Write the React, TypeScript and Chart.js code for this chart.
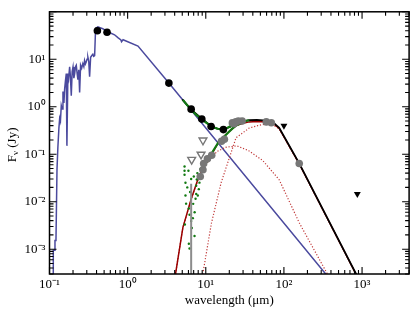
import React, { useEffect, useRef } from "react";
import { Chart, registerables } from "chart.js";

Chart.register(...registerables);

// ---------- data (wavelength in micron, flux density in Jy) ----------
// stellar photosphere model (blue)
const starWl = [0.1118, 0.1118, 0.1175, 0.1175, 0.121, 0.1247, 0.128, 0.132, 0.135, 0.138, 0.1415, 0.145, 0.1487, 0.153, 0.156, 0.16, 0.164, 0.167, 0.172, 0.176, 0.181, 0.185, 0.19, 0.195, 0.2, 0.205, 0.21, 0.215, 0.22, 0.226, 0.231, 0.237, 0.243, 0.25, 0.258, 0.267, 0.275, 0.281, 0.288, 0.295, 0.302, 0.31, 0.318, 0.326, 0.336, 0.348, 0.359, 0.368, 0.378, 0.389, 0.416, 0.48, 0.557, 0.68, 0.75, 0.82, 0.835, 0.874, 1.357, 3.37, 400];
const starFlux = [1e-4, 9.5e-4, 9.5e-4, 1.52e-3, 1.52e-3, 0.047, 0.14, 0.36, 0.57, 0.5, 1.06, 0.9, 2.1, 1.2, 2.3, 3.5, 5.0, 0.15, 5.0, 4.0, 6.9, 4.5, 1.7, 5.5, 6.9, 4.0, 5.0, 7.0, 7.5, 5.0, 3.7, 6.0, 2.0, 7.5, 6.5, 8.1, 7.0, 9.4, 8.0, 8.8, 10, 11, 9, 4.3, 11, 12, 12.8, 11.5, 11.9, 44.6, 48, 44, 38, 32.8, 28.5, 25.5, 23.5, 25.8, 19.0, 3.15, 2.2e-4];

// total model star + disk (black)
const totalWl = [5.0, 6.5, 8.9, 11.7, 14, 16.8, 20, 25, 30, 36, 45, 59, 75, 87, 157, 835, 1000];
const totalFlux = [1.43, 0.87, 0.56, 0.39, 0.345, 0.335, 0.37, 0.44, 0.49, 0.52, 0.53, 0.51, 0.45, 0.36, 0.064, 3.05e-4, 1.7e-4];

// disk model (dark red solid)
const diskWl = [4.1, 5.09, 6.52, 7.91, 9.62, 11.1, 14.9, 20, 24.4, 30, 36, 45, 59, 75, 87, 157, 835, 1000];
const diskFlux = [3.0e-4, 2.84e-3, 0.0115, 0.0294, 0.0593, 0.081, 0.19, 0.304, 0.40, 0.45, 0.48, 0.49, 0.48, 0.43, 0.35, 0.063, 3.0e-4, 1.7e-4];

// warm dust component (dotted)
const warmWl = [4.1, 5.09, 6.52, 7.91, 9.62, 11.1, 14, 18, 25, 35, 53.5, 87, 157, 360, 450];
const warmFlux = [3.0e-4, 2.84e-3, 0.0113, 0.028, 0.055, 0.076, 0.115, 0.14, 0.15, 0.12, 0.074, 0.029, 0.0036, 3.0e-4, 1.5e-4];

// cold dust component (dotted)
const coldWl = [9.16, 11.8, 15.7, 24.4, 36, 48.4, 60, 75, 87, 157, 835, 1000];
const coldFlux = [3.0e-4, 3.5e-3, 0.025, 0.223, 0.356, 0.41, 0.43, 0.40, 0.34, 0.062, 3.0e-4, 1.7e-4];

// IRS spectrum, total (green, upper)
const irsWl = [5.1, 5.6, 6.5, 7.5, 8.9, 10, 11.7, 13, 14.5, 16.8, 19, 22, 25, 28, 32, 36];
const irsFlux = [1.4, 1.15, 0.87, 0.68, 0.55, 0.47, 0.39, 0.36, 0.34, 0.335, 0.36, 0.41, 0.44, 0.47, 0.5, 0.52];

// IRS spectrum, photosphere subtracted (green, lower)
const excessWl = [8.3, 9.0, 9.6, 10.5, 11.1, 12.5, 14.9, 17, 20, 22, 24.4, 28, 32];
const excessFlux = [0.047, 0.052, 0.06, 0.072, 0.085, 0.12, 0.19, 0.23, 0.3, 0.35, 0.4, 0.45, 0.49];

// noisy short-wavelength excess spectrum (green dots)
const noiseWl = [5.35, 5.35, 5.4, 5.5, 5.5, 5.6, 5.8, 6.0, 6.07, 6.07, 6.2, 6.2, 6.3, 6.5, 6.63, 6.83, 6.9, 7.03, 7.18, 7.2, 7.4, 7.54, 7.54, 7.68, 7.8, 7.9, 8.14, 8.3, 5.35, 6.5];
const noiseFlux = [0.055, 0.037, 0.0033, 0.025, 0.0135, 0.0091, 0.02, 0.045, 0.0072, 0.0013, 0.0053, 0.00103, 0.016, 0.0039, 0.0028, 0.0045, 0.009, 0.034, 0.0019, 0.006, 0.0115, 0.0216, 0.0146, 0.0294, 0.04, 0.0135, 0.0184, 0.0252, 0.045, 0.03];

// photometry (black dots)
const photWl = [0.41, 0.545, 3.37, 6.5, 8.9, 11.7, 16.8];
const photFlux = [40, 37, 3.15, 0.89, 0.55, 0.385, 0.33];

// photometry (grey dots)
const grayWl = [8.5, 9.2, 9.4, 10.5, 11.9, 15.9, 17.3, 21.9, 23, 24.2, 26.1, 29.2, 59.5, 69, 157];
const grayFlux = [0.034, 0.047, 0.064, 0.08, 0.095, 0.188, 0.206, 0.457, 0.44, 0.48, 0.5, 0.5, 0.48, 0.46, 0.064];

// error bar (grey)
const errWl = [6.5, 6.5];
const errFlux = [0.024, 1e-4];

// upper limits
const openLimWl = [9.2, 8.7, 6.6];
const openLimFlux = [0.197, 0.099, 0.077];
const limWl = [100, 870];
const limFlux = [0.4, 0.0146];

// axis labels
const xTickExps = [-1, 0, 1, 2, 3];
const yTickExps = [-3, -2, -1, 0, 1];

// ---------------------------------------------------------------------
const SERIF = "'Liberation Serif', 'Times New Roman', Times, serif";
const SUP: Record<string, string> = { "-": "\u207B", "0": "\u2070", "1": "\u00B9", "2": "\u00B2", "3": "\u00B3", "4": "\u2074", "5": "\u2075" };

const fmt = (exps: number[]) => (v: any) => {
  const e = Math.log10(Number(v));
  const r = Math.round(e);
  if (Math.abs(e - r) > 1e-6 || !exps.includes(r)) return "";
  return "10" + String(r).split("").map((c) => SUP[c]).join("");
};

const pts = (xs: number[], ys: number[]) => xs.map((x, i) => ({ x, y: ys[i] }));

const axesPlugin = {
  id: "sedAxes",
  afterDatasetsDraw(chart: any) {
    const { ctx, chartArea: a, scales } = chart;
    const xs = scales.x;
    const ys = scales.y;
    ctx.save();
    ctx.strokeStyle = "#000";
    ctx.lineWidth = 1.1;
    ctx.beginPath();
    for (let e = -1; e <= 3; e++) {
      for (let k = 1; k <= 9; k++) {
        const p = xs.getPixelForValue(k * Math.pow(10, e));
        if (p < a.left - 0.5 || p > a.right + 0.5) continue;
        const len = k === 1 ? 7 : 4;
        ctx.moveTo(p, a.bottom);
        ctx.lineTo(p, a.bottom - len);
        ctx.moveTo(p, a.top);
        ctx.lineTo(p, a.top + len);
      }
    }
    for (let e = -4; e <= 2; e++) {
      for (let k = 1; k <= 9; k++) {
        const p = ys.getPixelForValue(k * Math.pow(10, e));
        if (p < a.top - 0.5 || p > a.bottom + 0.5) continue;
        const len = k === 1 ? 7 : 4;
        ctx.moveTo(a.left, p);
        ctx.lineTo(a.left + len, p);
        ctx.moveTo(a.right, p);
        ctx.lineTo(a.right - len, p);
      }
    }
    ctx.stroke();
    ctx.lineWidth = 1.5;
    ctx.strokeRect(a.left, a.top, a.right - a.left, a.bottom - a.top);

    // y axis title with subscript nu
    ctx.translate(13, (a.top + a.bottom) / 2 + 2);
    ctx.rotate(-Math.PI / 2);
    ctx.fillStyle = "#000";
    ctx.textBaseline = "middle";
    ctx.textAlign = "left";
    const big = `13px ${SERIF}`;
    const small = `9px ${SERIF}`;
    ctx.font = big;
    const wF = ctx.measureText("F").width;
    const wRest = ctx.measureText(" (Jy)").width;
    ctx.font = small;
    const wNu = ctx.measureText("\u03BD").width;
    let x0 = -(wF + wNu + wRest) / 2;
    ctx.font = big;
    ctx.fillText("F", x0, 0);
    x0 += wF;
    ctx.font = small;
    ctx.fillText("\u03BD", x0, 3);
    x0 += wNu;
    ctx.font = big;
    ctx.fillText(" (Jy)", x0, 0);
    ctx.restore();
  },
};

const lineDs = (data: any, color: string, width: number, order: number, dash: number[] = []) => ({
  data,
  showLine: true,
  borderColor: color,
  borderWidth: width,
  borderDash: dash,
  pointRadius: 0,
  pointHoverRadius: 0,
  fill: false,
  tension: 0,
  order,
  clip: 0,
});

export default function App() {
  const ref = useRef<HTMLCanvasElement>(null);

  useEffect(() => {
    if (!ref.current) return;
    const green = "#127a12";
    const chart = new Chart(ref.current, {
      type: "scatter",
      data: {
        datasets: [
          lineDs(pts(starWl, starFlux), "#4b4a9e", 1.5, 20),
          lineDs(pts(warmWl, warmFlux), "#c03838", 1.2, 19, [1.2, 1.8]),
          lineDs(pts(coldWl, coldFlux), "#c03838", 1.2, 19, [1.2, 1.8]),
          lineDs(pts(diskWl, diskFlux), "#9a0000", 1.5, 18),
          lineDs(pts(totalWl, totalFlux), "#000000", 1.8, 17),
          lineDs(pts(irsWl, irsFlux), green, 2.2, 16),
          lineDs(pts(excessWl, excessFlux), green, 2.2, 16),
          {
            data: pts(noiseWl, noiseFlux),
            pointRadius: 1.2,
            pointBackgroundColor: green,
            pointBorderWidth: 0,
            order: 15,
          },
          lineDs(pts(errWl, errFlux), "#8c8c8c", 2, 14),
          {
            data: pts(grayWl, grayFlux),
            pointRadius: 3.8,
            pointBackgroundColor: "#777777",
            pointBorderWidth: 0,
            order: 13,
          },
          {
            data: pts(photWl, photFlux),
            pointRadius: 3.8,
            pointBackgroundColor: "#000000",
            pointBorderWidth: 0,
            order: 12,
          },
          {
            data: pts(openLimWl, openLimFlux),
            pointStyle: "triangle",
            pointRotation: 180,
            pointRadius: 4.5,
            pointBackgroundColor: "#ffffff",
            pointBorderColor: "#777777",
            pointBorderWidth: 1.4,
            order: 11,
          },
          {
            data: pts(limWl, limFlux),
            pointStyle: "triangle",
            pointRotation: 180,
            pointRadius: 4,
            pointBackgroundColor: "#000000",
            pointBorderWidth: 0,
            order: 10,
          },
        ] as any,
      },
      options: {
        responsive: false,
        animation: false,
        devicePixelRatio: 1,
        layout: { padding: { top: 3, right: 4.8, left: 0, bottom: 0 } },
        plugins: { legend: { display: false }, tooltip: { enabled: false } },
        events: [],
        scales: {
          x: {
            type: "logarithmic",
            min: 0.1,
            max: 4000,
            grid: { display: false, drawTicks: false },
            border: { display: false },
            ticks: {
              autoSkip: false,
              maxRotation: 0,
              minRotation: 0,
              padding: 3,
              color: "#000",
              font: { family: SERIF, size: 13 },
              callback: fmt(xTickExps),
            },
            title: {
              display: true,
              text: "wavelength (\u03BCm)",
              color: "#000",
              font: { family: SERIF, size: 13 },
              padding: { top: 0, bottom: 4 },
            },
            afterFit: (s: any) => {
              s.height = 38;
            },
          },
          y: {
            type: "logarithmic",
            min: 3e-4,
            max: 100,
            grid: { display: false, drawTicks: false },
            border: { display: false },
            ticks: {
              autoSkip: false,
              padding: 4,
              color: "#000",
              font: { family: SERIF, size: 13 },
              callback: fmt(yTickExps),
            },
            afterFit: (s: any) => {
              s.width = 49.5;
            },
          },
        } as any,
      },
      plugins: [axesPlugin],
    });
    return () => chart.destroy();
  }, []);

  return (
    <div style={{ position: "fixed", left: 0, top: 0, width: 415, height: 312, background: "#fff" }}>
      <canvas ref={ref} width={415} height={312} style={{ display: "block", width: 415, height: 312 }} />
    </div>
  );
}
